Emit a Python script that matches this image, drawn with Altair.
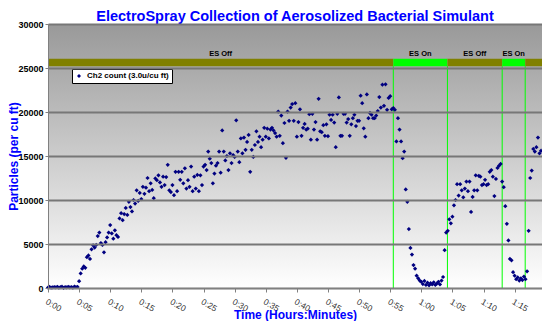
import altair as alt
import pandas as pd

FONT = "Liberation Sans"

# ---- data ----
SAMPLE_STEP_MIN = 0.25  # one reading every 15 seconds

warmup = [50, 120, 30, 80, 100, 60, 140, 40, 90, 150, 20, 110, 70, 130, 60, 100,
          40, 160, 90, 120]
rise = [780, 1650, 2200, 2450, 2300, 3500, 3700, 3300, 4400, 4850, 4600, 4900,
        5900, 6300, 5100, 4900, 4050, 5200, 5750, 6300, 7150, 6200, 5600, 6550,
        6000, 5800, 7900, 8500, 7700, 8400, 9100, 8300, 9800, 9200, 8700, 10000,
        9600, 11100, 9900, 10800, 10100, 11500, 10700, 11400]
plateau = [12500, 11000, 11900, 11150, 10200, 12450, 12250, 12800,
           12000, 11500, 12650, 11700, 12600, 14000, 11100, 10900,
           11700, 10550, 13200, 11000, 13200, 12300, 13200, 11900,
           13600, 11300, 12250, 11500, 13800, 11000, 12650, 11300,
           12850, 11000, 12800, 11700, 13800, 14000, 13400, 15500,
           14700, 14200, 11900, 13000, 13900, 14200, 15500, 13100,
           17900, 15500, 14500, 15000, 13400, 15300, 14200, 15100,
           14900, 19050, 15500, 14300, 17000, 15300, 17100, 15700,
           16600, 17400, 13200, 15700, 14900, 16250, 17800, 16600,
           17200, 16000, 16850, 18200, 17200, 18100, 17000, 18000,
           18200, 17900, 17600, 17200, 20050, 17300, 19600, 16450,
           18750, 14800, 20050, 19000, 20500, 20900, 19000, 21000,
           17200, 18850, 20300, 17300, 18200, 18650, 18000, 18100,
           19750, 16850, 19800, 18000, 18850, 16850, 21500, 17800,
           17700, 18500, 17300, 18600, 17250, 19700, 19100, 19700,
           18800, 16000, 19800, 21650, 17300, 17300, 19800, 19800,
           18800, 19200, 17300, 18600, 19300, 19700, 18400, 19000,
           19000, 21850, 21000, 18150, 17200, 22000, 19300, 19900,
           19700, 19300, 19300, 19600, 20100, 21700, 20500, 23100,
           20700, 23150, 20250, 21600]
es_on_1 = [21800, 20300, 20450, 20250, 16650, 19300, 18000, 16650,
           14750, 15500, 11200, 9800, 6700, 4550, 3800, 2600,
           2200, 1400, 1100, 850, 700, 450, 800, 350, 600, 300, 550, 400,
           650, 350, 500, 700, 400, 850, 1250, 4300]
es_off_2 = [6300, 6500, 7800, 7350, 8100, 9400, 10000, 11800,
            10500, 11800, 11100, 10300, 11300, 12100, 11000, 12100,
            8650, 10350, 11100, 12800, 11100, 12750, 12650, 11700,
            11800, 12300, 11700, 11800, 13200, 13400, 12650, 10450,
            12400, 13650, 13900, 14100]
es_on_2 = [12100, 11450, 9300, 7300, 5400, 3300, 3150, 1800,
           1400, 1000, 1200, 850, 1100, 900, 1300, 1000]
tail = [1900, 6500, 12500, 13350, 15800, 15500, 16000, 17100, 15300, 15600]

counts = warmup + rise + plateau + es_on_1 + es_off_2 + es_on_2 + tail
minutes = [i * SAMPLE_STEP_MIN for i in range(len(counts))]
SERIES = "Ch2 count (3.0u/cu ft)"

seg_start = [0, 55.5, 64.2, 73.0, 76.7]
seg_end = [55.5, 64.2, 73.0, 76.7, 79.4]
seg_state = ["off", "on", "off", "on", "off"]
seg_label = ["ES Off", "ES On", "ES Off", "ES On", ""]
switch_times = [55.5, 64.2, 73.0, 76.7]

x_ticks = [0, 5, 10, 15, 20, 25, 30, 35, 40, 45, 50, 55, 60, 65, 70, 75]
y_ticks = [0, 5000, 10000, 15000, 20000, 25000, 30000]
X_DOMAIN = [0, 79.4]
Y_DOMAIN = [0, 30000]
BAND_LOW, BAND_HIGH, BAND_TEXT = 25200, 26050, 26600

pts = pd.DataFrame({"minutes": minutes, "count": counts, "series": SERIES})
segs = pd.DataFrame({"start": seg_start, "end": seg_end, "state": seg_state,
                     "label": seg_label,
                     "mid": [(a + b) / 2 for a, b in zip(seg_start, seg_end)]})
sw = pd.DataFrame({"t": switch_times})

xs = alt.Scale(domain=X_DOMAIN, nice=False, zero=False)
ys = alt.Scale(domain=Y_DOMAIN, nice=False)

label_expr = ("floor(datum.value/60) + ':' + (datum.value % 60 < 10 ? '0' : '') + (datum.value % 60)")
X_TITLE = "Time (Hours:Minutes)"
x_axis = alt.Axis(values=x_ticks, labelExpr=label_expr, labelAngle=30,
                  labelAlign="left", labelBaseline="top", labelFont=FONT,
                  labelFontSize=8.5, labelColor="#333333", labelPadding=5,
                  tickSize=4, tickColor="#808080", domainColor="#808080",
                  grid=False, zindex=1, title=X_TITLE,
                  titleFont=FONT, titleFontSize=12, titleFontWeight="bold",
                  titleColor="#0000ff", titleBaseline="alphabetic", titleY=30)

bg = alt.Chart(pd.DataFrame({"a": [1]})).mark_rect(
    color=alt.Gradient(gradient="linear", x1=0, x2=0, y1=0, y2=1,
                       stops=[alt.GradientStop(color="#999999", offset=0),
                              alt.GradientStop(color="#ffffff", offset=1)])
).encode(x=alt.value(0), x2=alt.value("width"), y=alt.value(0), y2=alt.value("height"))

band = alt.Chart(segs).mark_rect().encode(
    x=alt.X("start:Q", scale=xs, axis=x_axis, title=X_TITLE),
    x2="end:Q",
    y=alt.datum(BAND_LOW, scale=ys),
    y2=alt.datum(BAND_HIGH),
    color=alt.Color("state:N", scale=alt.Scale(domain=["off", "on"], range=["#808000", "#00ff00"]),
                    legend=None),
)

band_text = alt.Chart(segs).mark_text(font=FONT, fontSize=7.5, fontWeight="bold",
                                      color="#000000", baseline="middle").encode(
    x=alt.X("mid:Q", scale=xs, axis=x_axis, title=X_TITLE),
    y=alt.datum(BAND_TEXT, scale=ys),
    text="label:N",
)

rules = alt.Chart(sw).mark_rule(color="#00ff00", strokeWidth=1).encode(
    x=alt.X("t:Q", scale=xs, axis=x_axis, title=X_TITLE),
    y=alt.datum(0, scale=ys),
    y2=alt.datum(BAND_LOW),
)

points = alt.Chart(pts).mark_point(shape="diamond", filled=True, size=18, opacity=1).encode(
    x=alt.X("minutes:Q", scale=xs, axis=x_axis, title=X_TITLE),
    y=alt.Y("count:Q", scale=ys,
            axis=alt.Axis(values=y_ticks, format="d", labelFont=FONT, labelFontSize=9,
                          labelFontWeight="bold", labelColor="#000000", labelPadding=2,
                          tickSize=3, tickColor="#808080", domainColor="#808080",
                          grid=True, gridColor="#777777", gridWidth=2, zindex=1,
                          title="Particles (per cu ft)", titleFont=FONT, titleFontSize=12,
                          titleFontWeight="bold", titleColor="#0000ff",
                          titleAngle=-90, titleBaseline="top", titleX=-40, titleY=132)),
    color=alt.Color("series:N", scale=alt.Scale(domain=[SERIES], range=["#000080"]),
                    legend=alt.Legend(title=None, orient="none", legendX=24, legendY=45,
                                      fillColor="#ffffff", strokeColor="#000000",
                                      padding=3, labelFont=FONT, labelFontSize=8,
                                      labelFontWeight="bold", labelColor="#000000",
                                      symbolType="diamond", symbolSize=16,
                                      symbolStrokeWidth=0, cornerRadius=0)),
)

chart = alt.layer(bg, band, rules, band_text, points).resolve_scale(color="independent").properties(
    width=494, height=264,
    autosize=alt.AutoSizeParams(type="none"),
    padding={"left": 40, "top": 16, "right": 0, "bottom": 33},
    title=alt.TitleParams("ElectroSpray Collection of Aerosolized Bacterial Simulant",
                          font=FONT, fontSize=14.5, fontWeight="bold", color="#0000ff",
                          anchor="middle", offset=-4),
).configure_view(strokeWidth=0).configure(background="#ffffff")

chart.save("out.html", embed_options={"renderer": "svg", "actions": False})
